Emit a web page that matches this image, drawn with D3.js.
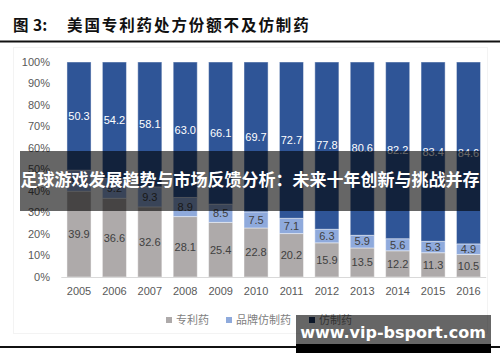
<!DOCTYPE html>
<html><head><meta charset="utf-8">
<script src="https://cdn.jsdelivr.net/npm/d3@7"></script>
<style>body{margin:0;background:#fff}svg{display:block}</style>
</head><body>
<svg id="c" width="500" height="362"></svg>
<script>
const years = ["2005","2006","2007","2008","2009","2010","2011","2012","2013","2014","2015","2016"];
const patent = [39.9,36.6,32.6,28.1,25.4,22.8,20.2,15.9,13.5,12.2,11.3,10.5];
const brandGeneric = [9.8,9.2,9.3,8.9,8.5,7.5,7.1,6.3,5.9,5.6,5.3,4.9];
const generic = [50.3,54.2,58.1,63.0,66.1,69.7,72.7,77.8,80.6,82.2,83.4,84.6];
const seriesNames = ["专利药","品牌仿制药","仿制药"];
const colors = ["#aeaaaa","#8faadc","#2f5597"];
const legendColors = ["#aeaaaa","#8faadc","#1f3864"];
const labelColors = ["#404040","#404040","#ffffff"];
const yTicks = [0,10,20,30,40,50,60,70,80,90,100];

const svg = d3.select("#c");
const fontCJK = "'Noto Sans CJK SC','Noto Sans',sans-serif";

// faint chart frame
svg.append("rect").attr("x",13.5).attr("y",47.5).attr("width",474).attr("height",286)
  .attr("fill","none").attr("stroke","#f3f3f3");

// title
const title = svg.append("text").attr("y",31)
  .attr("font-family",fontCJK).attr("font-weight","bold").attr("font-size",15.5).attr("fill","#111");
title.append("tspan").attr("x",13).text("图");
title.append("tspan").attr("x",33).text("3:");
title.append("tspan").attr("x",67).attr("letter-spacing",1.9).text("美国专利药处方份额不及仿制药");
svg.append("line").attr("x1",0).attr("x2",500).attr("y1",41.5).attr("y2",41.5)
  .attr("stroke","#111").attr("stroke-width",2);

const x = d3.scaleBand().domain(years).range([61.3,486.2]).paddingInner(0.32).paddingOuter(0.16);
const y = d3.scaleLinear().domain([0,100]).range([277,62]);

const data = years.map((yr,i)=>({year:yr, s0:patent[i], s1:brandGeneric[i], s2:generic[i]}));
const stack = d3.stack().keys(["s0","s1","s2"]);
const layers = stack(data);

// y axis labels
svg.append("g").selectAll("text").data(yTicks).join("text")
  .attr("x",50).attr("y",d=>y(d)).attr("dy","0.35em").attr("text-anchor","end")
  .attr("font-family","'Liberation Sans',Arial,sans-serif").attr("font-size",11).attr("fill","#595959")
  .text(d=>d+"%");

// bars
layers.forEach((layer,li)=>{
  const g = svg.append("g");
  g.selectAll("rect").data(layer).join("rect")
    .attr("x",d=>x(d.data.year)).attr("width",x.bandwidth())
    .attr("y",d=>y(d[1])).attr("height",d=>y(d[0])-y(d[1]))
    .attr("fill",colors[li]).attr("stroke","#ffffff").attr("stroke-opacity",0.45).attr("stroke-width",1);
  g.selectAll("text").data(layer).join("text")
    .attr("x",d=>x(d.data.year)+x.bandwidth()/2).attr("y",d=>(y(d[0])+y(d[1]))/2)
    .attr("dy","0.35em").attr("text-anchor","middle")
    .attr("font-family","'Liberation Sans',Arial,sans-serif").attr("font-size",11)
    .attr("fill",labelColors[li])
    .text(d=>(d[1]-d[0]).toFixed(1));
});

// x axis
const xAxis = svg.append("g").attr("transform","translate(0,277)")
  .call(d3.axisBottom(x).tickSize(0).tickPadding(10));
xAxis.select(".domain").attr("stroke","#d9d9d9").attr("stroke-width",1)
  .attr("d","M61.3,0.5H486.2");
xAxis.selectAll("text").attr("font-family","'Liberation Sans',Arial,sans-serif")
  .attr("font-size",11).attr("fill","#595959");

// legend
const legendX = [166,226,309];
const lg = svg.append("g");
seriesNames.forEach((n,i)=>{
  lg.append("rect").attr("x",legendX[i]).attr("y",317).attr("width",6).attr("height",6).attr("fill",legendColors[i]);
  lg.append("text").attr("x",legendX[i]+10).attr("y",320).attr("dy","0.35em")
    .attr("font-family",fontCJK).attr("font-size",11).attr("fill","#7f7f7f").text(n);
});

// bottom rule
svg.append("line").attr("x1",0).attr("x2",500).attr("y1",347).attr("y2",347)
  .attr("stroke","#111").attr("stroke-width",2);

// banner overlay
svg.append("rect").attr("x",20).attr("y",151).attr("width",460).attr("height",60)
  .attr("fill","#000").attr("fill-opacity",0.6);
svg.append("text").attr("x",250).attr("y",186).attr("text-anchor","middle")
  .attr("font-family",fontCJK).attr("font-weight","bold").attr("font-size",17)
  .attr("fill","#fff").text("足球游戏发展趋势与市场反馈分析：未来十年创新与挑战并存");

// watermark
svg.append("rect").attr("x",296).attr("y",315).attr("width",195).attr("height",29)
  .attr("fill","#000").attr("fill-opacity",0.6);
svg.append("rect").attr("x",296).attr("y",344).attr("width",195).attr("height",9).attr("fill","#000");
svg.append("text").attr("x",393).attr("y",338).attr("text-anchor","middle")
  .attr("font-family","'DejaVu Sans',sans-serif").attr("font-weight","bold").attr("font-size",16)
  .attr("fill","#fff").text("www.vip-bsport.com");
</script>
</body></html>
